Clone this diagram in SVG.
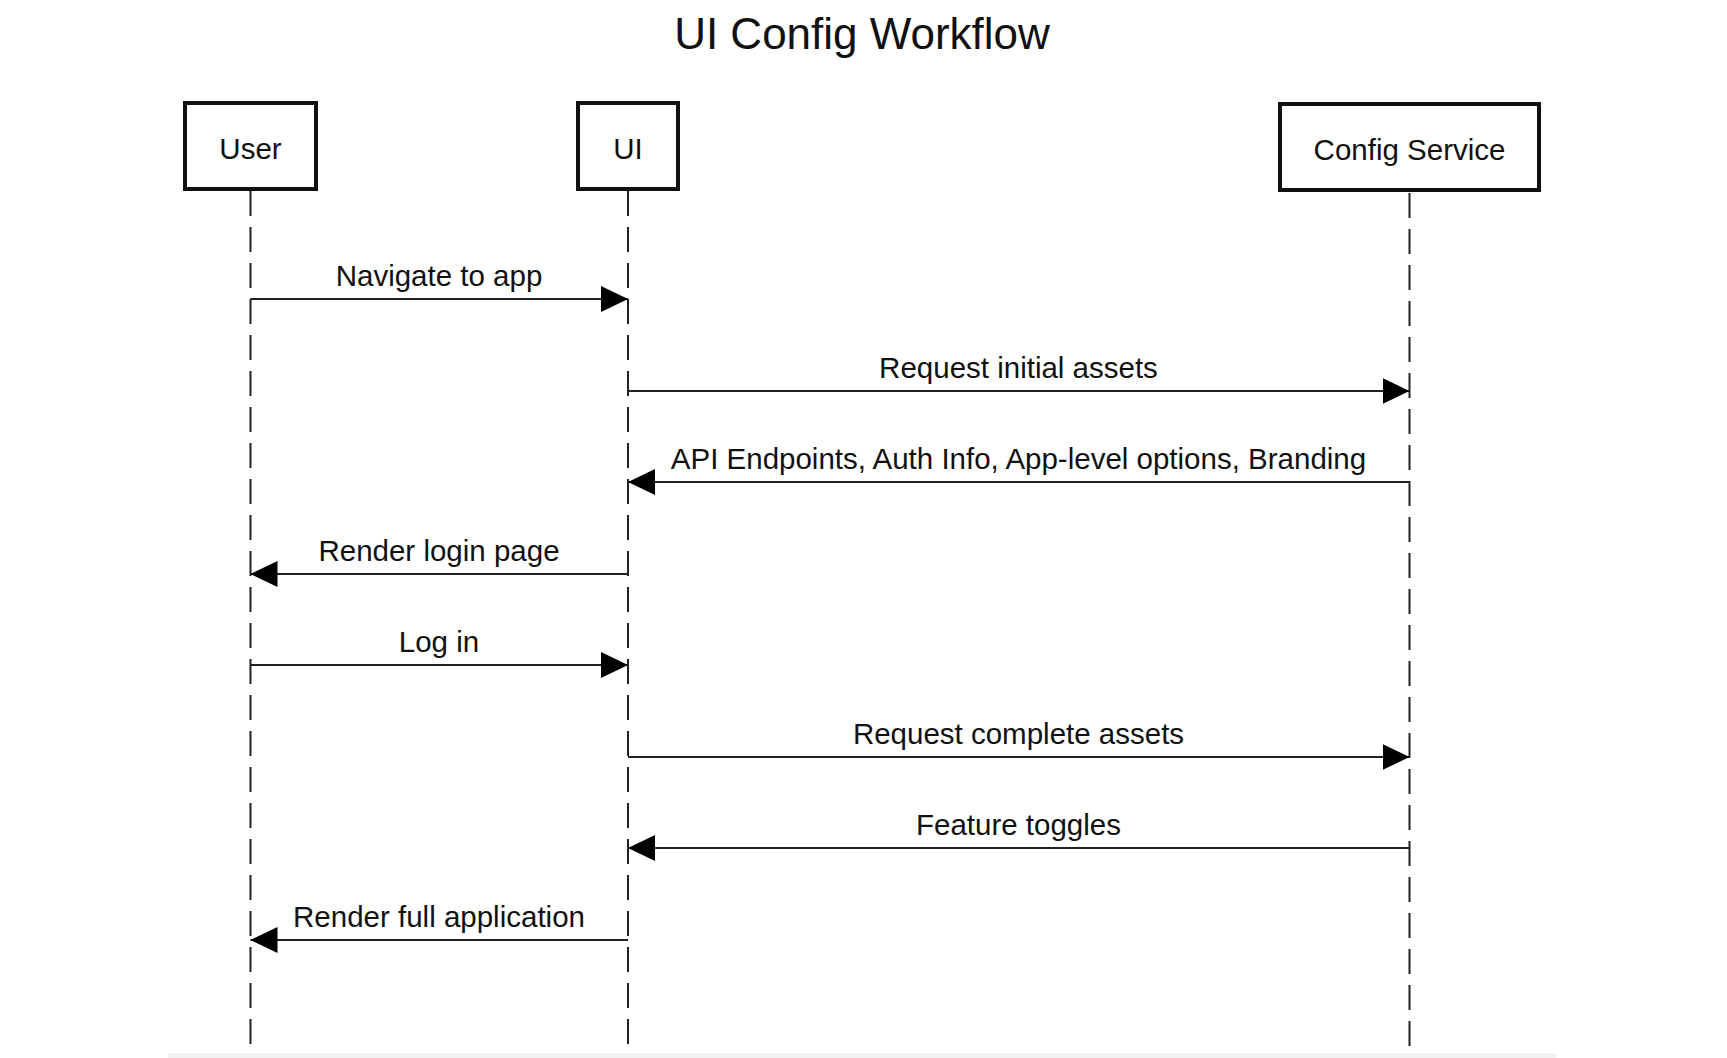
<svg xmlns="http://www.w3.org/2000/svg" width="1727" height="1058" viewBox="0 0 1727 1058">
<style>
text{font-family:"Liberation Sans",Arial,Helvetica,sans-serif;fill:#111}
.title{font-size:44px}
.lbl{font-size:29.5px;text-anchor:middle}
.box{fill:#fff;stroke:#111;stroke-width:4}
.life{stroke:#222;stroke-width:2;stroke-dasharray:25 11;fill:none}
.msg{stroke:#222;stroke-width:2;fill:none;marker-end:url(#ah)}
</style>
<defs>
<marker id="ah" markerUnits="userSpaceOnUse" markerWidth="28" markerHeight="28" refX="27" refY="13" orient="auto">
<path d="M0,0 L27,13 L0,26 z" fill="#000"/>
</marker>
</defs>
<rect width="1727" height="1058" fill="#fff"/>
<rect x="168" y="1053" width="1388" height="5" fill="#f2f2f2"/>
<text class="title" x="862" y="49" text-anchor="middle">UI Config Workflow</text>
<g id="lifelines">
<line class="life" x1="250.5" y1="191" x2="250.5" y2="1046"/>
<line class="life" x1="628" y1="191" x2="628" y2="1046"/>
<line class="life" x1="1409.5" y1="193" x2="1409.5" y2="1046"/>
</g>
<g id="node-user">
<rect class="box" x="185" y="103" width="131" height="86"/>
<text class="lbl" x="250.5" y="159">User</text>
</g>
<g id="node-ui">
<rect class="box" x="578" y="103" width="100" height="86"/>
<text class="lbl" x="628" y="159">UI</text>
</g>
<g id="node-config">
<rect class="box" x="1280" y="104" width="259" height="86"/>
<text class="lbl" x="1409.5" y="160">Config Service</text>
</g>
<g id="connectors">
<line class="msg" x1="250.5" y1="299" x2="628" y2="299"/>
<text class="lbl" x="439" y="286">Navigate to app</text>
<line class="msg" x1="628" y1="391" x2="1409.5" y2="391"/>
<text class="lbl" x="1018.5" y="378">Request initial assets</text>
<line class="msg" x1="1409.5" y1="482" x2="628" y2="482"/>
<text class="lbl" x="1018.5" y="469">API Endpoints, Auth Info, App-level options, Branding</text>
<line class="msg" x1="628" y1="574" x2="250.5" y2="574"/>
<text class="lbl" x="439" y="561">Render login page</text>
<line class="msg" x1="250.5" y1="665" x2="628" y2="665"/>
<text class="lbl" x="439" y="652">Log in</text>
<line class="msg" x1="628" y1="757" x2="1409.5" y2="757"/>
<text class="lbl" x="1018.5" y="744">Request complete assets</text>
<line class="msg" x1="1409.5" y1="848" x2="628" y2="848"/>
<text class="lbl" x="1018.5" y="835">Feature toggles</text>
<line class="msg" x1="628" y1="940" x2="250.5" y2="940"/>
<text class="lbl" x="439" y="927">Render full application</text>
</g>
</svg>
